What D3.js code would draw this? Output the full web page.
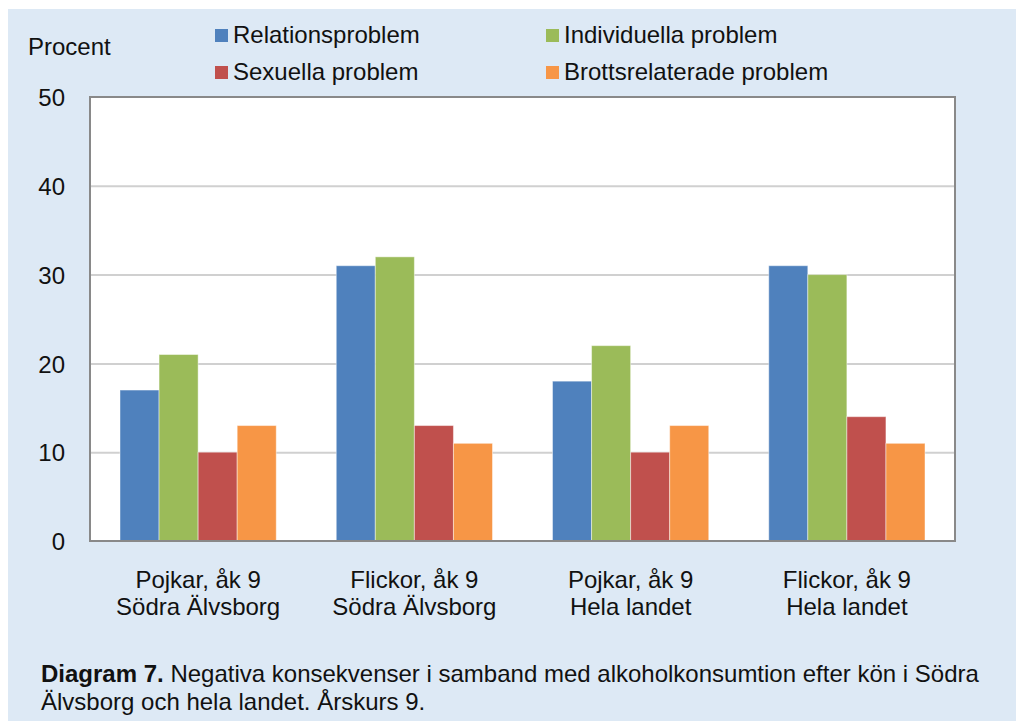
<!DOCTYPE html>
<html><head><meta charset="utf-8">
<script src="https://cdn.jsdelivr.net/npm/d3@7"></script>
<style>
html,body{margin:0;padding:0;background:#fff;}
svg{display:block;font-family:"Liberation Sans",Arial,Helvetica,sans-serif;}
</style></head>
<body>
<svg id="chart" width="1016" height="721"></svg>
<script>
const categories = [
  ["Pojkar, åk 9", "Södra Älvsborg"],
  ["Flickor, åk 9", "Södra Älvsborg"],
  ["Pojkar, åk 9", "Hela landet"],
  ["Flickor, åk 9", "Hela landet"]
];
const seriesNames = ["Relationsproblem", "Individuella problem", "Sexuella problem", "Brottsrelaterade problem"];
const relationsproblem = [17, 31, 18, 31];
const individuellaProblem = [21, 32, 22, 30];
const sexuellaProblem = [10, 13, 10, 14];
const brottsrelateradeProblem = [13, 11, 13, 11];
const yTicks = [0, 10, 20, 30, 40, 50];
const colors = ["#4f81bd", "#9bbb59", "#c0504d", "#f79646"];
const yLabel = "Procent";
const captionBold = "Diagram 7.";
const captionLine1 = " Negativa konsekvenser i samband med alkoholkonsumtion efter kön i Södra";
const captionLine2 = "Älvsborg och hela landet. Årskurs 9.";

const seriesValues = [relationsproblem, individuellaProblem, sexuellaProblem, brottsrelateradeProblem];
const FS = 24;

const svg = d3.select("#chart");
svg.append("rect").attr("x", 8).attr("y", 9).attr("width", 1008).attr("height", 712).attr("fill", "#dde9f5");

const plot = {left: 90, top: 97, right: 955, bottom: 541};
const x0 = d3.scaleBand().domain(d3.range(categories.length)).range([plot.left, plot.right]).paddingInner(0).paddingOuter(0);
const groupPad = 30;
const x1 = d3.scaleBand().domain(d3.range(seriesNames.length)).range([groupPad, x0.bandwidth() - groupPad]).padding(0);
const y = d3.scaleLinear().domain([0, 50]).range([plot.bottom, plot.top]);

svg.append("rect").attr("x", plot.left).attr("y", plot.top)
  .attr("width", plot.right - plot.left).attr("height", plot.bottom - plot.top).attr("fill", "#fff");

// gridlines
const grid = svg.append("g").attr("transform", `translate(${plot.left},0)`)
  .call(d3.axisLeft(y).tickValues(yTicks.slice(1, -1)).tickSize(-(plot.right - plot.left)).tickFormat(""));
grid.select(".domain").remove();
grid.selectAll("line").attr("stroke", "#d0d0d0").attr("stroke-width", 2);

// bars
const groups = svg.append("g").selectAll("g").data(categories).join("g")
  .attr("transform", (d, i) => `translate(${x0(i)},0)`);
groups.selectAll("rect").data((d, i) => seriesValues.map((s, k) => ({k, v: s[i]}))).join("rect")
  .attr("x", d => x1(d.k)).attr("width", x1.bandwidth())
  .attr("y", d => y(d.v)).attr("height", d => y(0) - y(d.v))
  .attr("fill", d => colors[d.k])
  .attr("stroke", "rgba(255,255,255,0.45)").attr("stroke-width", 1);

// frame
svg.append("rect").attr("x", plot.left).attr("y", plot.top)
  .attr("width", plot.right - plot.left).attr("height", plot.bottom - plot.top)
  .attr("fill", "none").attr("stroke", "#898989").attr("stroke-width", 2);

// y axis labels
const yAxis = svg.append("g").attr("transform", `translate(${plot.left},0)`)
  .call(d3.axisLeft(y).tickValues(yTicks).tickSize(0).tickPadding(25));
yAxis.select(".domain").remove();
yAxis.selectAll("text").attr("font-size", FS).attr("fill", "#111").attr("font-family", "Liberation Sans, Arial, sans-serif").attr("dy", "0.36em");

// x axis labels
const xAxis = svg.append("g").attr("transform", `translate(0,${plot.bottom})`)
  .call(d3.axisBottom(x0).tickSize(0).tickFormat(""));
xAxis.select(".domain").remove();
xAxis.selectAll(".tick").each(function(d) {
  const t = d3.select(this).append("text").attr("fill", "#111").attr("font-size", FS)
    .attr("text-anchor", "middle").attr("font-family", "Liberation Sans, Arial, sans-serif");
  t.append("tspan").attr("x", 0).attr("y", 47).text(categories[d][0]);
  t.append("tspan").attr("x", 0).attr("y", 74).text(categories[d][1]);
});

// y label
svg.append("text").attr("x", 28).attr("y", 55).attr("font-size", FS).attr("fill", "#111").text(yLabel);

// legend
const legendPos = [[215, 29], [546, 29], [215, 66], [546, 66]];
seriesNames.forEach((name, k) => {
  const [lx, ly] = legendPos[k];
  svg.append("rect").attr("x", lx).attr("y", ly).attr("width", 13).attr("height", 13).attr("fill", colors[k]);
  svg.append("text").attr("x", lx + 18).attr("y", ly + 14).attr("font-size", FS).attr("fill", "#111").text(name);
});

// caption
const cap = svg.append("text").attr("x", 41).attr("y", 682).attr("font-size", FS).attr("fill", "#111");
cap.append("tspan").attr("font-weight", "bold").text(captionBold);
cap.append("tspan").text(captionLine1);
svg.append("text").attr("x", 41).attr("y", 710).attr("font-size", FS).attr("fill", "#111").text(captionLine2);
</script>
</body></html>
